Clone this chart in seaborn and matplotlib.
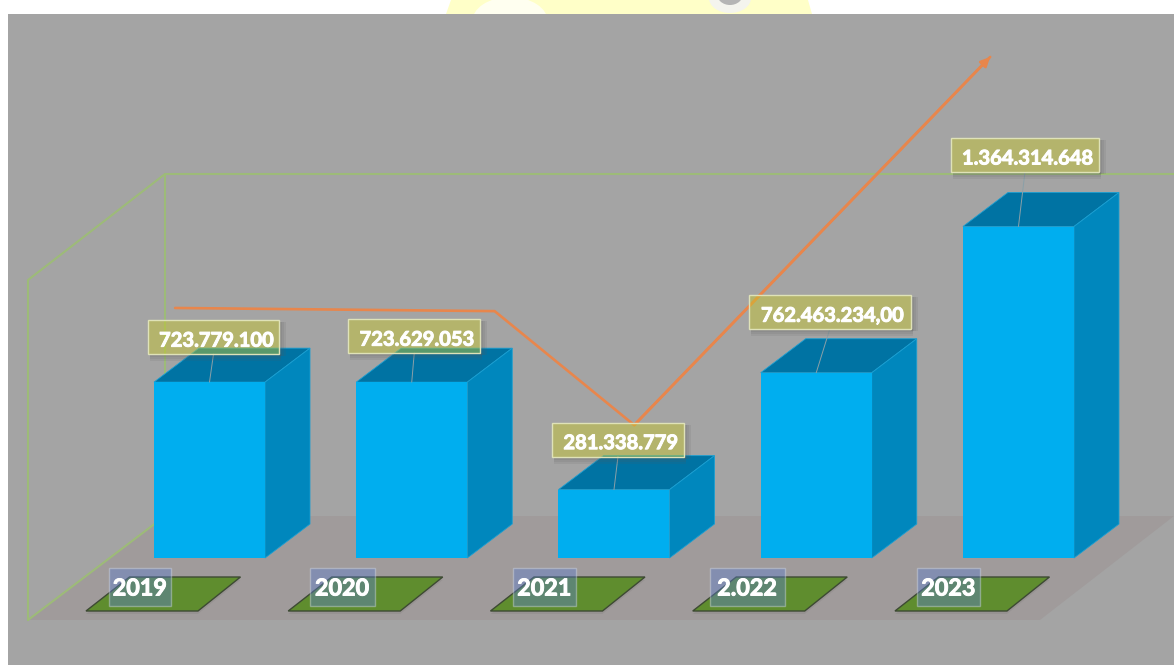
import matplotlib
matplotlib.use('Agg')
import matplotlib.pyplot as plt
import matplotlib.patheffects as pe
from matplotlib.patches import Polygon, Ellipse, Rectangle
from matplotlib.transforms import Affine2D, IdentityTransform
import seaborn as sns

# veri
years = ['2019', '2020', '2021', '2.022', '2023']
values = [723779100, 723629053, 281338779, 762463234, 1364314648]
value_labels = ['723.779.100', '723.629.053', '281.338.779', '762.463.234,00', '1.364.314.648']

# trend okunun noktalari (kategori konumu, deger)
trend_x = [-0.17, 1.41, 2.10, 3.86]
trend_y = [1029e6, 1016e6, 547e6, 2062e6]

W, H = 1174, 665
BAR_FRONT = '#00aeef'
BAR_TOP = '#0073a3'
BAR_SIDE = '#0087bd'
DEPTH_X, DEPTH_Y = 45, 34
# etiket kutusu kaymasi ve genisligi (piksel)
label_dx = [4, 2.5, 4, 13.5, 6.5]
label_dy = [45, 46, 50, 60.5, 71.5]
label_w = [131, 132, 132, 162, 148]
year_w = [62, 65, 63, 75, 63]
year_dx = [-69.5, -69.5, -69.5, -69, -70]

sns.set_theme(style='white')
plt.rcParams['font.family'] = ['Lato', 'DejaVu Sans']

fig = plt.figure(figsize=(W / 100, H / 100), dpi=100, facecolor='white')
ax = fig.add_axes([0, 0, 1, 1])
ax.patch.set_alpha(0)

# goruntu koordinati (sol ust kose 0,0)
to_px = Affine2D().scale(1, -1).translate(0, H)
display = IdentityTransform()


def poly(points, **kw):
    kw.setdefault('lw', 0)
    p = Polygon(points, closed=True, transform=to_px, clip_on=False, **kw)
    ax.add_patch(p)
    return p


def line(points, **kw):
    xs, ys = zip(*points)
    ax.plot(xs, ys, transform=to_px, clip_on=False, solid_capstyle='round', **kw)


def box(cx, cy, w, h, **kw):
    ax.add_patch(Rectangle((cx - w / 2, cy - h / 2), w, h, transform=display, clip_on=False, **kw))


# arka plan
poly([(446, 14), (451, 0), (808, 0), (812, 14)], fc='#ffffc8', zorder=0)
ax.add_patch(Ellipse((510, 22), 76, 50, fc='#fffff0', lw=0, transform=to_px, zorder=0))
ax.add_patch(Ellipse((730, -2), 42, 30, fc='#f4f4ee', lw=0, transform=to_px, zorder=0))
ax.add_patch(Ellipse((730, -6), 26, 22, fc='#b5b5b5', lw=0, transform=to_px, zorder=0))
poly([(8, 14), (W, 14), (W, H), (8, H)], fc='#a4a4a4', zorder=0.5)
poly([(28, 620), (1040, 620), (W, 516), (165, 516)], fc='#a09b9b', zorder=1)

# yesil kutu cizgileri
green = '#9dbb78'
line([(W, 174), (165, 174), (165, 516), (28, 620)], color=green, lw=1.5, zorder=1.2)
line([(165, 174), (28, 280), (28, 620)], color=green, lw=1.5, zorder=1.2)

sns.barplot(x=years, y=values, order=years, color=BAR_FRONT, saturation=1, width=0.549,
            ax=ax, zorder=3, legend=False, linewidth=0)

k = 331.5 / 1364314648
ax.set_xlim(-1.0358, 4.769)
ax.set_ylim(-(H - 558) / k, 558 / k)
ax.set_xlabel('')
ax.set_ylabel('')
ax.set_yticks([])
ax.set_xticks([])
sns.despine(ax=ax, left=True, bottom=True)

bold = [pe.withStroke(linewidth=0.7, foreground='white')]

# 3B yuzeyler ve etiketler cubuklardan
for i, bar in enumerate(ax.containers[0]):
    (x0, y0), (x1, y1) = ax.transData.transform(
        [(bar.get_x(), 0), (bar.get_x() + bar.get_width(), bar.get_height())])
    for pts, col in [
        ([(x0, y1), (x1, y1), (x1 + DEPTH_X, y1 + DEPTH_Y), (x0 + DEPTH_X, y1 + DEPTH_Y)], BAR_TOP),
        ([(x1, y0), (x1 + DEPTH_X, y0 + DEPTH_Y), (x1 + DEPTH_X, y1 + DEPTH_Y), (x1, y1)], BAR_SIDE),
    ]:
        ax.add_patch(Polygon(pts, closed=True, fc=col, ec='#1a9fd2', lw=0.6, transform=display,
                             clip_on=False, zorder=2.9))

    # zemindeki yesil levha
    cx = (x0 + x1) / 2
    base = [(cx - 123.5, H - 611), (cx - 11.5, H - 611), (cx + 31, H - 577), (cx - 80, H - 577)]
    ax.add_patch(Polygon([(a, b - 3) for a, b in base], closed=True, fc='#8f8b8b', lw=0, alpha=.5,
                         transform=display, zorder=1.4))
    ax.add_patch(Polygon(base, closed=True, fc='#5f8d2e', ec='#3d4a33', lw=1,
                         transform=display, zorder=1.5))

    # deger etiketi
    lx, ly = cx + label_dx[i], y1 + label_dy[i]
    ax.plot([cx, lx], [y1, ly - 17], color='#8aa0a8', lw=0.7, transform=display,
            zorder=3.2, clip_on=False)
    # golge sadece kutunun disinda (kutu yari saydam)
    w = label_w[i]
    for s in (7, 5, 3):
        box(lx + w / 2 + s / 2, ly - 2, s, 34, fc='#5a5a5a', lw=0, alpha=.12, zorder=5)
        box(lx + 2, ly - 17 - s / 2, w, s, fc='#5a5a5a', lw=0, alpha=.12, zorder=5)
    box(lx, ly, w, 34, fc='#c8c828', lw=0, alpha=.45, zorder=5.5)
    box(lx, ly, w, 34, fc='none', ec='#dfe2b8', lw=1, zorder=5.6)
    ax.annotate(value_labels[i], xy=(lx + 2.5, ly - 1.5), xycoords=display, ha='center',
                va='center_baseline', color='white', fontsize=14.5, fontweight='bold', zorder=6,
                path_effects=bold)

    # yil etiketi
    yx, yy = cx + year_dx[i], H - 587
    box(yx, yy, year_w[i], 38, fc='#5d7ece', ec='#d5dce8', lw=1, alpha=.42, zorder=5.5)
    ax.annotate(years[i], xy=(yx, yy), xycoords=display, ha='center', va='center_baseline',
                color='white', fontsize=16.8, fontweight='bold', zorder=6, path_effects=bold)

# trend cizgisi
orange = '#e8864c'
sns.lineplot(x=trend_x, y=trend_y, sort=False, estimator=None, color=orange, lw=1.9, ax=ax,
             zorder=4, legend=False)
ax.annotate('', xy=(trend_x[-1], trend_y[-1]), xytext=(trend_x[-2], trend_y[-2]), zorder=4,
            arrowprops=dict(arrowstyle='-|>,head_length=0.45,head_width=0.22', color=orange, lw=1.9,
                            shrinkA=0, shrinkB=0))

fig.savefig('out.png', dpi=100)
